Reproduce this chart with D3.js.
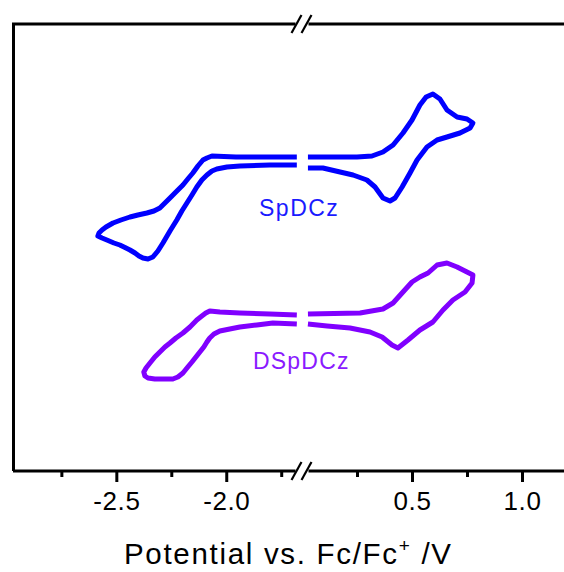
<!DOCTYPE html>
<html><head><meta charset="utf-8">
<script src="https://cdn.jsdelivr.net/npm/d3@7/dist/d3.min.js"></script>
<style>body{margin:0;background:#fff}svg{display:block}</style>
</head><body>
<svg id="c" width="564" height="572"></svg>
<script>
// ---- tick values (potential, V vs Fc/Fc+) ----
const leftMajorTicks = [-2.5, -2.0];
const leftMinorTicks = [-2.75, -2.25, -1.75];
const rightMajorTicks = [0.5, 1.0];
const rightMinorTicks = [0.25, 0.75];
const xTitle = "Potential vs. Fc/Fc";
const seriesNames = ["SpDCz", "DSpDCz"];

// ---- CV data: [potential V, current (a.u., offset)] ----
const spdczReduction = [
 [-1.679,31.4],[-1.802,31.4],[-1.956,31.4],[-2.065,31.5],[-2.088,31.3],[-2.106,31.1],[-2.129,30.5],
 [-2.152,29.8],[-2.175,29.2],[-2.197,28.6],[-2.229,27.9],[-2.256,27.3],[-2.279,26.8],[-2.302,26.3],
 [-2.329,26.0],[-2.361,25.8],[-2.402,25.6],[-2.438,25.4],[-2.479,25.1],[-2.515,24.8],[-2.547,24.4],
 [-2.565,24.1],[-2.579,23.8],[-2.584,23.5],[-2.565,23.3],[-2.543,23.1],[-2.511,22.8],[-2.484,22.6],
 [-2.456,22.3],[-2.438,22.1],[-2.415,21.8],[-2.397,21.5],[-2.379,21.3],[-2.356,21.2],[-2.334,21.4],
 [-2.311,22.0],[-2.288,22.8],[-2.256,24.0],[-2.225,25.1],[-2.202,26.0],[-2.179,26.8],[-2.156,27.6],
 [-2.134,28.4],[-2.111,29.1],[-2.088,29.6],[-2.065,30.0],[-2.043,30.2],[-1.997,30.4],[-1.938,30.5],
 [-1.802,30.6],[-1.679,30.6]
];
const spdczOxidation = [
 [0.027,31.4],[0.250,31.4],[0.318,31.5],[0.368,31.9],[0.414,32.6],[0.459,33.8],[0.500,35.1],
 [0.536,36.6],[0.564,37.4],[0.595,37.7],[0.627,37.2],[0.659,36.1],[0.705,35.4],[0.750,35.2],
 [0.777,34.8],[0.764,34.3],[0.718,33.8],[0.659,33.4],[0.614,33.1],[0.568,32.4],[0.523,31.1],
 [0.491,29.8],[0.455,28.4],[0.423,27.3],[0.400,27.0],[0.368,27.3],[0.332,28.4],[0.295,29.1],
 [0.232,29.6],[0.173,29.9],[0.095,30.3],[0.027,30.3]
];
const dspdczReduction = [
 [-1.679,15.6],[-1.802,15.7],[-1.938,15.8],[-2.029,15.9],[-2.075,16.0],[-2.093,15.8],[-2.111,15.5],
 [-2.134,15.1],[-2.165,14.4],[-2.197,13.8],[-2.229,13.3],[-2.256,12.8],[-2.279,12.4],[-2.302,11.9],
 [-2.325,11.4],[-2.347,10.8],[-2.365,10.3],[-2.375,9.9],[-2.370,9.5],[-2.356,9.3],[-2.325,9.2],
 [-2.288,9.2],[-2.243,9.2],[-2.220,9.4],[-2.197,9.8],[-2.175,10.4],[-2.156,10.9],[-2.138,11.4],
 [-2.120,11.9],[-2.102,12.4],[-2.088,12.9],[-2.075,13.3],[-2.056,13.7],[-2.029,14.0],[-1.984,14.2],
 [-1.938,14.4],[-1.861,14.6],[-1.788,14.8],[-1.679,14.7]
];
const dspdczOxidation = [
 [0.027,15.7],[0.264,15.8],[0.368,16.2],[0.414,16.8],[0.459,17.9],[0.500,18.9],[0.536,19.4],
 [0.573,19.8],[0.614,20.6],[0.659,20.8],[0.705,20.4],[0.750,19.9],[0.777,19.6],[0.773,18.8],
 [0.741,17.9],[0.686,17.1],[0.641,16.1],[0.595,14.9],[0.536,14.1],[0.482,13.1],[0.436,12.3],
 [0.409,12.6],[0.364,13.4],[0.309,13.9],[0.218,14.3],[0.114,14.5],[0.027,14.7]
];

const W = 564, H = 572;
const plotTop = 24, plotBottom = 471, plotLeft = 13;
const font = "Arial, 'Liberation Sans', sans-serif";
const svg = d3.select("#c");

const xL = d3.scaleLinear().domain([-2.97, -1.66]).range([plotLeft, 301]);
const xR = d3.scaleLinear().domain([0, 1.2]).range([302, 566]);
const y = d3.scaleLinear().domain([0, 44.7]).range([plotBottom, plotTop]);

const blue = "#0000ff", purple = "#8000ff";

// curves
const lineL = d3.line().x(d => xL(d[0])).y(d => y(d[1]));
const lineR = d3.line().x(d => xR(d[0])).y(d => y(d[1]));
const curves = [
  [spdczReduction, lineL, blue], [spdczOxidation, lineR, blue],
  [dspdczReduction, lineL, purple], [dspdczOxidation, lineR, purple]
];
curves.forEach(([data, gen, col]) => {
  svg.append("path").attr("d", gen(data)).attr("fill", "none")
    .attr("stroke", col).attr("stroke-width", 5)
    .attr("stroke-linejoin", "round").attr("stroke-linecap", "butt");
});

// axes ticks
function addAxis(scale, vals, size, labels) {
  const ax = d3.axisBottom(scale).tickValues(vals).tickSize(size).tickPadding(10)
    .tickFormat(labels ? (d => d.toFixed(1)) : "");
  const g = svg.append("g").attr("transform", `translate(0,${plotBottom})`).call(ax);
  g.select(".domain").remove();
  g.selectAll("line").attr("stroke", "#000").attr("stroke-width", 3);
  g.selectAll("text").attr("font-family", font).attr("font-size", 26)
    .attr("letter-spacing", 0.6).attr("fill", "#000");
}
addAxis(xL, leftMajorTicks, 11, true);
addAxis(xL, leftMinorTicks, 6, false);
addAxis(xR, rightMajorTicks, 11, true);
addAxis(xR, rightMinorTicks, 6, false);

// frame with broken top/bottom lines
const brk = (xL.range()[1] + xR.range()[0]) / 2;
const fr = svg.append("g").attr("stroke", "#000").attr("stroke-width", 3).attr("fill", "none");
fr.append("path").attr("d", `M${plotLeft + 0.5},${plotBottom} L${plotLeft + 0.5},${plotTop} L${brk - 6},${plotTop}`);
fr.append("path").attr("d", `M${brk + 7},${plotTop} L${W + 5},${plotTop}`);
fr.append("path").attr("d", `M${plotLeft},${plotBottom} L${brk - 6},${plotBottom}`);
fr.append("path").attr("d", `M${brk + 7},${plotBottom} L${W + 5},${plotBottom}`);
[plotTop, plotBottom].forEach(yy => {
  [-5, 5].forEach(off => {
    svg.append("line")
      .attr("x1", brk + off - 5).attr("y1", yy + 9)
      .attr("x2", brk + off + 5).attr("y2", yy - 9)
      .attr("stroke", "#000").attr("stroke-width", 2.2);
  });
});

// series labels
svg.append("text").attr("x", 259).attr("y", 216).text(seriesNames[0])
  .attr("font-family", font).attr("font-size", 23).attr("letter-spacing", 1.5).attr("fill", "#1a1aff");
svg.append("text").attr("x", 253).attr("y", 369).text(seriesNames[1])
  .attr("font-family", font).attr("font-size", 23).attr("letter-spacing", 1.2).attr("fill", "#8a1aff");

// x title
const t = svg.append("text").attr("x", 124).attr("y", 564)
  .attr("font-family", font).attr("font-size", 29.5).attr("fill", "#000")
  .attr("textLength", 327).attr("lengthAdjust", "spacing");
t.append("tspan").text(xTitle);
t.append("tspan").attr("dy", -12).attr("font-size", 19).text("+");
t.append("tspan").attr("dy", 12).text(" /V");
</script>
</body></html>
